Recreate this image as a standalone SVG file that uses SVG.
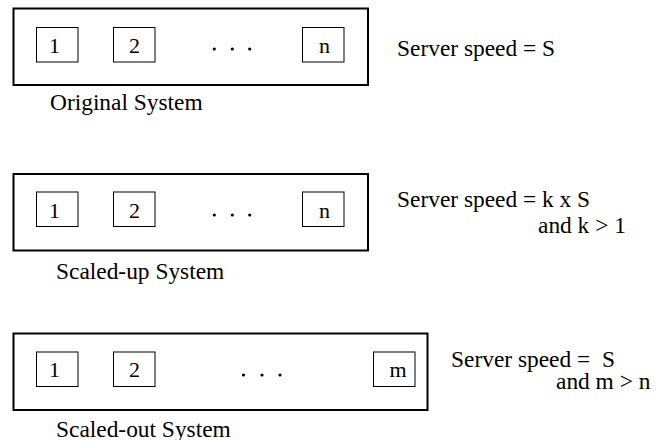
<svg xmlns="http://www.w3.org/2000/svg" width="662" height="440" viewBox="0 0 662 440">
  <style>
    .frame { fill: none; stroke: #000; stroke-width: 2; }
    .slot { fill: #fff; stroke: #000; stroke-width: 1; }
    .dot { fill: #000; }
  </style>
  <rect width="662" height="440" fill="#fff"/>

  <g font-family="'Liberation Serif', 'Times New Roman', Times, serif" fill="#000">
  <!-- Original system -->
  <g id="original-system">
    <rect class="frame" x="13.5" y="8.5" width="354.5" height="76.5"/>
    <g id="orig-server-1"><rect class="slot" x="36.5" y="27.5" width="41.5" height="34.5"/><text font-size="22" x="49" y="53">1</text></g>
    <g id="orig-server-2"><rect class="slot" x="113.5" y="27.5" width="41.5" height="34.5"/><text font-size="22" x="129" y="53">2</text></g>
    <g id="orig-dots"><circle class="dot" cx="214.3" cy="49" r="1.6"/><circle class="dot" cx="232.3" cy="49" r="1.6"/><circle class="dot" cx="249.7" cy="49" r="1.6"/></g>
    <g id="orig-server-n"><rect class="slot" x="302.5" y="27.5" width="41.5" height="34.5"/><text font-size="22" x="319" y="53">n</text></g>
    <text font-size="23.4" x="50" y="110">Original System</text>
    <text font-size="23.4" x="397" y="56">Server speed = S</text>
  </g>

  <!-- Scaled-up system -->
  <g id="scaled-up-system">
    <rect class="frame" x="13.5" y="174" width="354.5" height="76.5"/>
    <g id="up-server-1"><rect class="slot" x="36.5" y="192" width="41.5" height="34.5"/><text font-size="22" x="49" y="218">1</text></g>
    <g id="up-server-2"><rect class="slot" x="113.5" y="192" width="41.5" height="34.5"/><text font-size="22" x="129" y="218">2</text></g>
    <g id="up-dots"><circle class="dot" cx="214.3" cy="215" r="1.6"/><circle class="dot" cx="232.3" cy="215" r="1.6"/><circle class="dot" cx="249.7" cy="215" r="1.6"/></g>
    <g id="up-server-n"><rect class="slot" x="302.5" y="192" width="41.5" height="34.5"/><text font-size="22" x="319" y="218">n</text></g>
    <text font-size="23.4" x="56" y="279">Scaled-up System</text>
    <text font-size="23.4" x="397" y="207">Server speed = k x S</text>
    <text font-size="23.4" x="538" y="233">and k &gt; 1</text>
  </g>

  <!-- Scaled-out system -->
  <g id="scaled-out-system">
    <rect class="frame" x="13.5" y="333.5" width="414" height="76.5"/>
    <g id="out-server-1"><rect class="slot" x="36.5" y="352" width="41.5" height="34.5"/><text font-size="22" x="49" y="377">1</text></g>
    <g id="out-server-2"><rect class="slot" x="113.5" y="352" width="41.5" height="34.5"/><text font-size="22" x="129" y="377">2</text></g>
    <g id="out-dots"><circle class="dot" cx="243.5" cy="375" r="1.6"/><circle class="dot" cx="262" cy="375" r="1.6"/><circle class="dot" cx="280" cy="375" r="1.6"/></g>
    <g id="out-server-m"><rect class="slot" x="373.5" y="352" width="41.5" height="34.5"/><text font-size="22" x="389.5" y="377">m</text></g>
    <text font-size="23.4" x="56" y="436.5">Scaled-out System</text>
    <text font-size="23.4" x="451" y="367" xml:space="preserve">Server speed =  S</text>
    <text font-size="23.4" x="556" y="389">and m &gt; n</text>
  </g>
  </g>
</svg>
